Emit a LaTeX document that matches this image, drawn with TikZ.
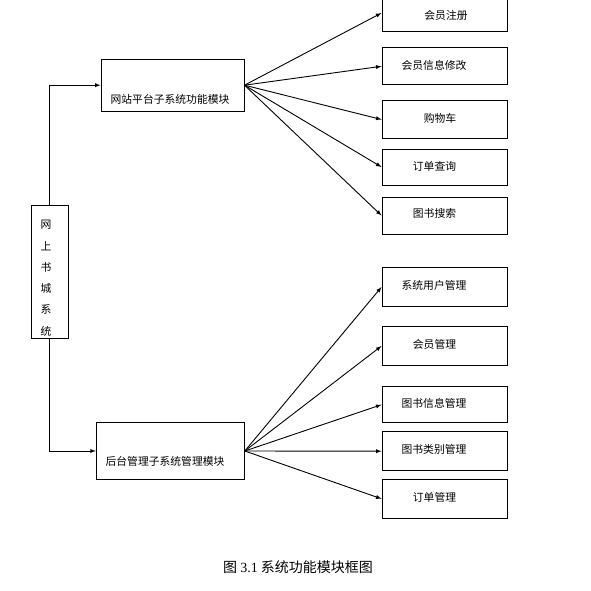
\documentclass[tikz,border=0pt]{standalone}
\usepackage{fontspec}
\newfontfamily\cjk{Noto Sans CJK SC}
\newfontfamily\capnum{Liberation Serif}
\usepackage{tikz}

\tikzset{
  box/.style={draw, line width=1pt, minimum width=125pt, minimum height=37pt, inner sep=0pt},
  boxtext/.style={font=\cjk\fontsize{10.8}{13}\selectfont},
  fan/.style={line width=0.9pt, -latex}
}

\begin{document}
\begin{tikzpicture}[x=1pt, y=-1pt]
          \useasboundingbox (0,0) rectangle (591,591);

          % whole system
          \node[box, minimum width=37pt, minimum height=133pt] (sys) at (49.8,272.3) {};
          \foreach \ch [count=\i] in {网,上,书,城,系,统}
            \node[boxtext] (sys\i) at (46,{225+21.2*(\i-1)}) {\ch};

          % front subsystem
          \node[box, minimum width=143pt, minimum height=52pt] (front) at (172.5,85.2) {};
          \node[boxtext] (fronttext) at (170,99) {网站平台子系统功能模块};

          % back subsystem
          \node[box, minimum width=148pt, minimum height=57pt] (back) at (170.3,451) {};
          \node[boxtext] (backtext) at (165,461.5) {后台管理子系统管理模块};

          % front modules
          \node[box] (reg) at (444.5,13) {};
          \node[boxtext] (regtext) at (446,15) {会员注册};
          \node[box] (info) at (444.5,66.3) {};
          \node[boxtext] (infotext) at (434,65) {会员信息修改};
          \node[box] (cart) at (444.5,119.5) {};
          \node[boxtext] (carttext) at (440,118) {购物车};
          \node[box, minimum height=36pt] (query) at (444.5,167) {};
          \node[boxtext] (querytext) at (434.5,166) {订单查询};
          \node[box] (search) at (444.5,215.5) {};
          \node[boxtext] (searchtext) at (434.5,213) {图书搜索};

          % back modules
          \node[box, minimum height=39pt] (user) at (444.5,287) {};
          \node[boxtext] (usertext) at (434,285) {系统用户管理};
          \node[box, minimum height=39pt] (member) at (444.5,346) {};
          \node[boxtext] (membertext) at (434.5,344) {会员管理};
          \node[box, minimum height=36pt] (book) at (444.5,404.7) {};
          \node[boxtext] (booktext) at (434,403) {图书信息管理};
          \node[box, minimum height=39pt] (kind) at (444.5,451.2) {};
          \node[boxtext] (kindtext) at (434,449) {图书类别管理};
          \node[box, minimum height=39pt] (ordermgr) at (444.5,498.8) {};
          \node[boxtext] (ordermgrtext) at (434.5,497) {订单管理};

          % system to subsystems
          \draw[fan] (sys.north) |- (front.west);
          \draw[fan] (sys.south) |- (back.west);

          % fans
          \foreach \m in {reg,info,cart,query,search}
            \draw[fan] (front.east) -- (\m.west);
          \foreach \m in {user,member,book,kind,ordermgr}
            \draw[fan] (back.east) -- (\m.west);

          % caption
          \node[font=\cjk\fontsize{14}{17}\selectfont] (caption) at (298,567)
            {图 {\capnum 3.1} 系统功能模块框图};
\end{tikzpicture}
\end{document}
